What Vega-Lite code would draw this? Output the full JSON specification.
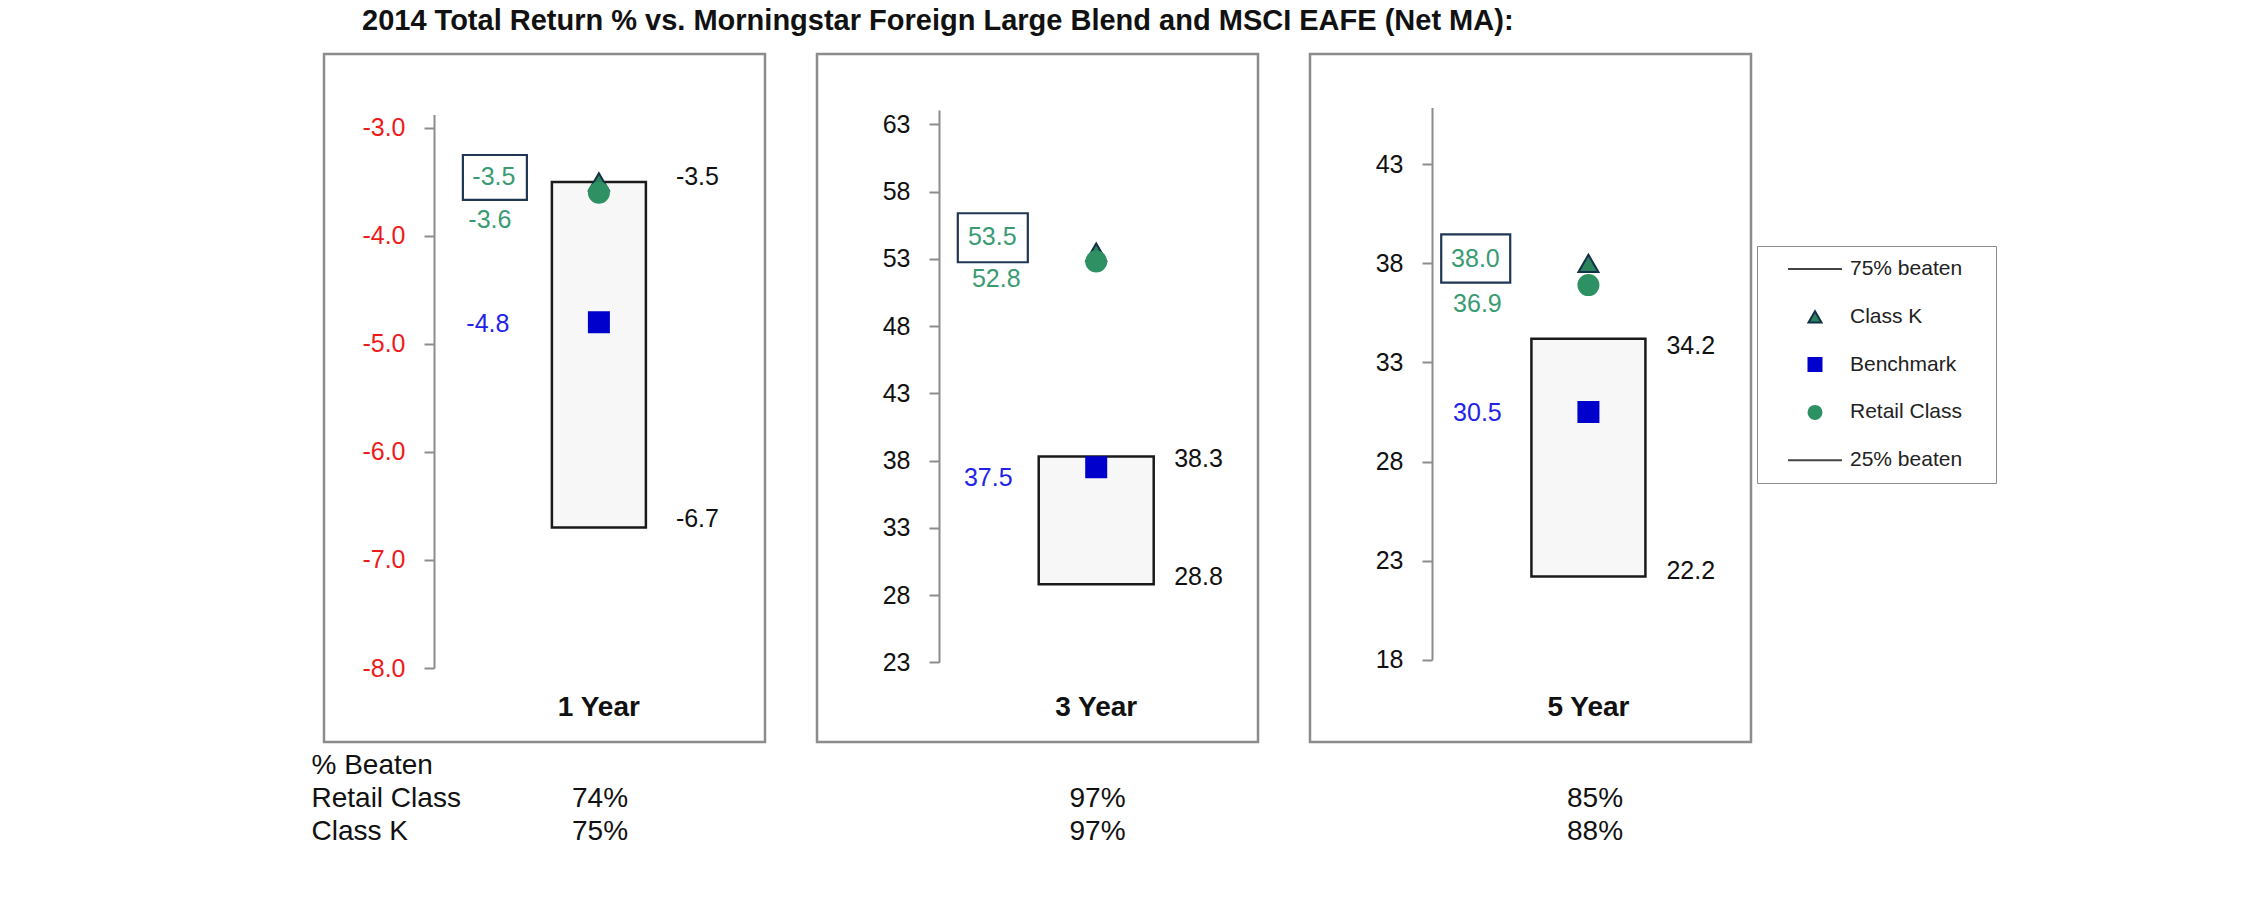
{
  "$schema": "https://vega.github.io/schema/vega-lite/v6.json",
  "background": "white",
  "padding": {"left": 311, "top": 6, "right": 5, "bottom": 5},
  "title": {"text": "2014 Total Return % vs. Morningstar Foreign Large Blend and MSCI EAFE (Net MA):", "anchor": "start", "frame": "group", "dx": 38, "offset": 17, "fontSize": 29, "font": "Liberation Sans", "fontWeight": "bold", "color": "#111111"},
  "datasets": {
    "returns": [
      {"period": "1 Year", "series": "Class K", "value": -3.5},
      {"period": "1 Year", "series": "Retail Class", "value": -3.6},
      {"period": "1 Year", "series": "Benchmark", "value": -4.8},
      {"period": "1 Year", "series": "75% beaten", "value": -3.5},
      {"period": "1 Year", "series": "25% beaten", "value": -6.7},
      {"period": "3 Year", "series": "Class K", "value": 53.5},
      {"period": "3 Year", "series": "Retail Class", "value": 52.8},
      {"period": "3 Year", "series": "Benchmark", "value": 37.5},
      {"period": "3 Year", "series": "75% beaten", "value": 38.3},
      {"period": "3 Year", "series": "25% beaten", "value": 28.8},
      {"period": "5 Year", "series": "Class K", "value": 38.0},
      {"period": "5 Year", "series": "Retail Class", "value": 36.9},
      {"period": "5 Year", "series": "Benchmark", "value": 30.5},
      {"period": "5 Year", "series": "75% beaten", "value": 34.2},
      {"period": "5 Year", "series": "25% beaten", "value": 22.2}
    ],
    "beaten": [
      {"period": "1 Year", "cls": "Retail Class", "pct": 0.74},
      {"period": "1 Year", "cls": "Class K", "pct": 0.75},
      {"period": "3 Year", "cls": "Retail Class", "pct": 0.97},
      {"period": "3 Year", "cls": "Class K", "pct": 0.97},
      {"period": "5 Year", "cls": "Retail Class", "pct": 0.85},
      {"period": "5 Year", "cls": "Class K", "pct": 0.88}
    ]
  },
  "spacing": 5,
  "vconcat": [
    {
      "spacing": 48,
      "hconcat": [
        {
          "width": 441, "height": 688,
          "data": {"name": "returns"},
          "transform": [{"filter": "datum.period === '1 Year'"}],
          "encoding": {
            "x": {"field": "period", "type": "nominal", "scale": {"type": "band", "paddingInner": 0, "paddingOuter": 1, "align": 0.685}, "axis": {"orient": "bottom", "offset": -49, "domain": false, "ticks": false, "tickSize": 0, "labelPadding": 0, "labelAngle": 0, "labelFontSize": 28, "labelFontWeight": "bold", "labelColor": "#111111", "title": null}},
            "y": {"field": "value", "type": "quantitative", "scale": {"domain": [-8, -2.876], "range": [614, 60.5], "nice": false, "zero": false}, "axis": {"values": [-8, -7, -6, -5, -4, -3], "format": ".1f", "offset": -110, "labelColor": "#ee1b1b", "labelFontSize": 25, "labelPadding": 19, "tickSize": 10, "tickWidth": 2, "tickColor": "#8c8c8c", "domainColor": "#8c8c8c", "domainWidth": 2, "title": null, "grid": false}}
          },
          "layer": [
            {"transform": [{"pivot": "series", "value": "value", "groupby": ["period"]}],
             "mark": {"type": "bar", "width": 94, "fill": "#f7f7f7", "stroke": "#1a1a1a", "strokeWidth": 2.5},
             "encoding": {"y": {"field": "75% beaten", "type": "quantitative", "scale": {"domain": [-8, -2.876], "range": [614, 60.5], "nice": false, "zero": false}, "axis": {"values": [-8, -7, -6, -5, -4, -3], "format": ".1f", "offset": -110, "labelColor": "#ee1b1b", "labelFontSize": 25, "labelPadding": 19, "tickSize": 10, "tickWidth": 2, "tickColor": "#8c8c8c", "domainColor": "#8c8c8c", "domainWidth": 2, "title": null, "grid": false}}, "y2": {"field": "25% beaten"}}},
            {"transform": [{"filter": "datum.series === 'Class K'"}],
             "mark": {"type": "point", "shape": "M-1,-0.7H1V0.7H-1Z", "size": 4096, "filled": false, "stroke": "#1f3654", "strokeWidth": 2.2, "opacity": 1, "xOffset": -104, "yOffset": -4.5}},
            {"transform": [{"filter": "datum.series !== '75% beaten' && datum.series !== '25% beaten'"}],
             "mark": {"type": "point", "filled": true, "size": 400, "opacity": 1, "strokeWidth": 2},
             "encoding": {
               "shape": {"field": "series", "type": "nominal", "title": null, "scale": {"domain": ["75% beaten", "Class K", "Benchmark", "Retail Class", "25% beaten"], "range": ["M-4.15,0H4.15", "triangle-up", "square", "circle", "M-4.15,0H4.15"]}, "legend": {"orient": "none", "legendX": 1433, "legendY": 192, "title": null, "labelExpr": "datum.label + '\u00a0\u2800'"}},
               "fill": {"field": "series", "type": "nominal", "title": null, "scale": {"domain": ["75% beaten", "Class K", "Benchmark", "Retail Class", "25% beaten"], "range": ["#444444", "#2a835a", "#0000cc", "#2e9163", "#444444"]}, "legend": {"orient": "none", "legendX": 1433, "legendY": 192, "title": null, "labelExpr": "datum.label + '\u00a0\u2800'"}},
               "stroke": {"field": "series", "type": "nominal", "title": null, "scale": {"domain": ["75% beaten", "Class K", "Benchmark", "Retail Class", "25% beaten"], "range": ["#444444", "#13304a", "#0000cc", "#2e9163", "#444444"]}, "legend": {"orient": "none", "legendX": 1433, "legendY": 192, "title": null, "labelExpr": "datum.label + '\u00a0\u2800'"}}
             }},
            {"transform": [{"filter": "datum.series === 'Class K'"}],
             "mark": {"type": "text", "align": "center", "baseline": "middle", "dx": -105, "dy": -4.5, "fontSize": 25, "color": "#3a9b72"},
             "encoding": {"text": {"field": "value", "type": "quantitative", "format": ".1f"}}},
            {"transform": [{"filter": "datum.series === 'Retail Class'"}],
             "mark": {"type": "text", "align": "center", "baseline": "middle", "dx": -109, "dy": 27, "fontSize": 25, "color": "#3a9b72"},
             "encoding": {"text": {"field": "value", "type": "quantitative", "format": ".1f"}}},
            {"transform": [{"filter": "datum.series === 'Benchmark'"}],
             "mark": {"type": "text", "align": "center", "baseline": "middle", "dx": -111, "dy": 2, "fontSize": 25, "color": "#2323e8"},
             "encoding": {"text": {"field": "value", "type": "quantitative", "format": ".1f"}}},
            {"transform": [{"filter": "datum.series === '75% beaten'"}],
             "mark": {"type": "text", "align": "left", "baseline": "middle", "dx": 77, "dy": -5, "fontSize": 25, "color": "#111111"},
             "encoding": {"text": {"field": "value", "type": "quantitative", "format": ".1f"}}},
            {"transform": [{"filter": "datum.series === '25% beaten'"}],
             "mark": {"type": "text", "align": "left", "baseline": "middle", "dx": 77, "dy": -9, "fontSize": 25, "color": "#111111"},
             "encoding": {"text": {"field": "value", "type": "quantitative", "format": ".1f"}}}
          ]
        },
        {
          "width": 441, "height": 688,
          "data": {"name": "returns"},
          "transform": [{"filter": "datum.period === '3 Year'"}],
          "encoding": {
            "x": {"field": "period", "type": "nominal", "scale": {"type": "band", "paddingInner": 0, "paddingOuter": 1, "align": 0.6997}, "axis": {"orient": "bottom", "offset": -49, "domain": false, "ticks": false, "tickSize": 0, "labelPadding": 0, "labelAngle": 0, "labelFontSize": 28, "labelFontWeight": "bold", "labelColor": "#111111", "title": null}},
            "y": {"field": "value", "type": "quantitative", "scale": {"domain": [23, 64.06], "range": [608.3, 56], "nice": false, "zero": false}, "axis": {"values": [23, 28, 33, 38, 43, 48, 53, 58, 63], "format": "d", "offset": -122, "labelColor": "#111111", "labelFontSize": 25, "labelPadding": 19, "tickSize": 10, "tickWidth": 2, "tickColor": "#8c8c8c", "domainColor": "#8c8c8c", "domainWidth": 2, "title": null, "grid": false}}
          },
          "layer": [
            {"transform": [{"pivot": "series", "value": "value", "groupby": ["period"]}],
             "mark": {"type": "bar", "width": 115, "fill": "#f7f7f7", "stroke": "#1a1a1a", "strokeWidth": 2.5},
             "encoding": {"y": {"field": "75% beaten", "type": "quantitative", "scale": {"domain": [23, 64.06], "range": [608.3, 56], "nice": false, "zero": false}, "axis": {"values": [23, 28, 33, 38, 43, 48, 53, 58, 63], "format": "d", "offset": -122, "labelColor": "#111111", "labelFontSize": 25, "labelPadding": 19, "tickSize": 10, "tickWidth": 2, "tickColor": "#8c8c8c", "domainColor": "#8c8c8c", "domainWidth": 2, "title": null, "grid": false}}, "y2": {"field": "25% beaten"}}},
            {"transform": [{"filter": "datum.series === 'Class K'"}],
             "mark": {"type": "point", "shape": "M-1,-0.7H1V0.7H-1Z", "size": 4900, "filled": false, "stroke": "#1f3654", "strokeWidth": 2.2, "opacity": 1, "xOffset": -103.4, "yOffset": -14.3}},
            {"transform": [{"filter": "datum.series !== '75% beaten' && datum.series !== '25% beaten'"}],
             "mark": {"type": "point", "filled": true, "size": 400, "opacity": 1, "strokeWidth": 2},
             "encoding": {
               "shape": {"field": "series", "type": "nominal", "title": null, "scale": {"domain": ["75% beaten", "Class K", "Benchmark", "Retail Class", "25% beaten"], "range": ["M-4.15,0H4.15", "triangle-up", "square", "circle", "M-4.15,0H4.15"]}, "legend": {"orient": "none", "legendX": 1433, "legendY": 192, "title": null, "labelExpr": "datum.label + '\u00a0\u2800'"}},
               "fill": {"field": "series", "type": "nominal", "title": null, "scale": {"domain": ["75% beaten", "Class K", "Benchmark", "Retail Class", "25% beaten"], "range": ["#444444", "#2a835a", "#0000cc", "#2e9163", "#444444"]}, "legend": {"orient": "none", "legendX": 1433, "legendY": 192, "title": null, "labelExpr": "datum.label + '\u00a0\u2800'"}},
               "stroke": {"field": "series", "type": "nominal", "title": null, "scale": {"domain": ["75% beaten", "Class K", "Benchmark", "Retail Class", "25% beaten"], "range": ["#444444", "#13304a", "#0000cc", "#2e9163", "#444444"]}, "legend": {"orient": "none", "legendX": 1433, "legendY": 192, "title": null, "labelExpr": "datum.label + '\u00a0\u2800'"}}
             }},
            {"transform": [{"filter": "datum.series === 'Class K'"}],
             "mark": {"type": "text", "align": "center", "baseline": "middle", "dx": -104, "dy": -15, "fontSize": 25, "color": "#3a9b72"},
             "encoding": {"text": {"field": "value", "type": "quantitative", "format": ".1f"}}},
            {"transform": [{"filter": "datum.series === 'Retail Class'"}],
             "mark": {"type": "text", "align": "center", "baseline": "middle", "dx": -100, "dy": 18, "fontSize": 25, "color": "#3a9b72"},
             "encoding": {"text": {"field": "value", "type": "quantitative", "format": ".1f"}}},
            {"transform": [{"filter": "datum.series === 'Benchmark'"}],
             "mark": {"type": "text", "align": "center", "baseline": "middle", "dx": -108, "dy": 11, "fontSize": 25, "color": "#2323e8"},
             "encoding": {"text": {"field": "value", "type": "quantitative", "format": ".1f"}}},
            {"transform": [{"filter": "datum.series === '75% beaten'"}],
             "mark": {"type": "text", "align": "left", "baseline": "middle", "dx": 78, "dy": 3, "fontSize": 25, "color": "#111111"},
             "encoding": {"text": {"field": "value", "type": "quantitative", "format": ".1f"}}},
            {"transform": [{"filter": "datum.series === '25% beaten'"}],
             "mark": {"type": "text", "align": "left", "baseline": "middle", "dx": 78, "dy": -7, "fontSize": 25, "color": "#111111"},
             "encoding": {"text": {"field": "value", "type": "quantitative", "format": ".1f"}}}
          ]
        },
        {
          "width": 441, "height": 688,
          "data": {"name": "returns"},
          "transform": [{"filter": "datum.period === '5 Year'"}],
          "encoding": {
            "x": {"field": "period", "type": "nominal", "scale": {"type": "band", "paddingInner": 0, "paddingOuter": 1, "align": 0.697}, "axis": {"orient": "bottom", "offset": -49, "domain": false, "ticks": false, "tickSize": 0, "labelPadding": 0, "labelAngle": 0, "labelFontSize": 28, "labelFontWeight": "bold", "labelColor": "#111111", "title": null}},
            "y": {"field": "value", "type": "quantitative", "scale": {"domain": [18, 45.86], "range": [605.8, 53.5], "nice": false, "zero": false}, "axis": {"values": [18, 23, 28, 33, 38, 43], "format": "d", "offset": -122, "labelColor": "#111111", "labelFontSize": 25, "labelPadding": 19, "tickSize": 10, "tickWidth": 2, "tickColor": "#8c8c8c", "domainColor": "#8c8c8c", "domainWidth": 2, "title": null, "grid": false}}
          },
          "layer": [
            {"transform": [{"pivot": "series", "value": "value", "groupby": ["period"]}],
             "mark": {"type": "bar", "width": 114, "fill": "#f7f7f7", "stroke": "#1a1a1a", "strokeWidth": 2.5},
             "encoding": {"y": {"field": "75% beaten", "type": "quantitative", "scale": {"domain": [18, 45.86], "range": [605.8, 53.5], "nice": false, "zero": false}, "axis": {"values": [18, 23, 28, 33, 38, 43], "format": "d", "offset": -122, "labelColor": "#111111", "labelFontSize": 25, "labelPadding": 19, "tickSize": 10, "tickWidth": 2, "tickColor": "#8c8c8c", "domainColor": "#8c8c8c", "domainWidth": 2, "title": null, "grid": false}}, "y2": {"field": "25% beaten"}}},
            {"transform": [{"filter": "datum.series === 'Class K'"}],
             "mark": {"type": "point", "shape": "M-1,-0.7H1V0.7H-1Z", "size": 4761, "filled": false, "stroke": "#1f3654", "strokeWidth": 2.2, "opacity": 1, "xOffset": -112.7, "yOffset": -4.8}},
            {"transform": [{"filter": "datum.series !== '75% beaten' && datum.series !== '25% beaten'"}],
             "mark": {"type": "point", "filled": true, "size": 400, "opacity": 1, "strokeWidth": 2},
             "encoding": {
               "shape": {"field": "series", "type": "nominal", "title": null, "scale": {"domain": ["75% beaten", "Class K", "Benchmark", "Retail Class", "25% beaten"], "range": ["M-4.15,0H4.15", "triangle-up", "square", "circle", "M-4.15,0H4.15"]}, "legend": {"orient": "none", "legendX": 1433, "legendY": 192, "title": null, "labelExpr": "datum.label + '\u00a0\u2800'"}},
               "fill": {"field": "series", "type": "nominal", "title": null, "scale": {"domain": ["75% beaten", "Class K", "Benchmark", "Retail Class", "25% beaten"], "range": ["#444444", "#2a835a", "#0000cc", "#2e9163", "#444444"]}, "legend": {"orient": "none", "legendX": 1433, "legendY": 192, "title": null, "labelExpr": "datum.label + '\u00a0\u2800'"}},
               "stroke": {"field": "series", "type": "nominal", "title": null, "scale": {"domain": ["75% beaten", "Class K", "Benchmark", "Retail Class", "25% beaten"], "range": ["#444444", "#13304a", "#0000cc", "#2e9163", "#444444"]}, "legend": {"orient": "none", "legendX": 1433, "legendY": 192, "title": null, "labelExpr": "datum.label + '\u00a0\u2800'"}}
             }},
            {"transform": [{"filter": "datum.series === 'Class K'"}],
             "mark": {"type": "text", "align": "center", "baseline": "middle", "dx": -113, "dy": -4.5, "fontSize": 25, "color": "#3a9b72"},
             "encoding": {"text": {"field": "value", "type": "quantitative", "format": ".1f"}}},
            {"transform": [{"filter": "datum.series === 'Retail Class'"}],
             "mark": {"type": "text", "align": "center", "baseline": "middle", "dx": -111, "dy": 19, "fontSize": 25, "color": "#3a9b72"},
             "encoding": {"text": {"field": "value", "type": "quantitative", "format": ".1f"}}},
            {"transform": [{"filter": "datum.series === 'Benchmark'"}],
             "mark": {"type": "text", "align": "center", "baseline": "middle", "dx": -111, "dy": 1, "fontSize": 25, "color": "#2323e8"},
             "encoding": {"text": {"field": "value", "type": "quantitative", "format": ".1f"}}},
            {"transform": [{"filter": "datum.series === '75% beaten'"}],
             "mark": {"type": "text", "align": "left", "baseline": "middle", "dx": 78, "dy": 7, "fontSize": 25, "color": "#111111"},
             "encoding": {"text": {"field": "value", "type": "quantitative", "format": ".1f"}}},
            {"transform": [{"filter": "datum.series === '25% beaten'"}],
             "mark": {"type": "text", "align": "left", "baseline": "middle", "dx": 78, "dy": -6, "fontSize": 25, "color": "#111111"},
             "encoding": {"text": {"field": "value", "type": "quantitative", "format": ".1f"}}}
          ]
        }
      ]
    },
    {
      "width": 1600, "height": 100,
      "view": {"stroke": null},
      "data": {"name": "beaten"},
      "mark": {"type": "text", "fontSize": 28, "color": "#111111", "baseline": "middle"},
      "encoding": {
        "x": {"field": "period", "type": "nominal", "scale": {"type": "band", "domain": ["1 Year", "3 Year", "5 Year"], "paddingInner": 0, "paddingOuter": 0.108, "align": 0.2535}, "axis": null},
        "y": {"field": "cls", "type": "nominal", "scale": {"type": "band", "domain": ["% Beaten", "Retail Class", "Class K"], "paddingInner": 0, "paddingOuter": 0}, "axis": {"orient": "left", "labelAlign": "left", "labelBaseline": "middle", "labelPadding": 13, "ticks": false, "tickSize": 0, "domain": false, "labelFontSize": 28, "labelColor": "#111111", "title": null}},
        "text": {"field": "pct", "type": "quantitative", "format": ".0%"}
      }
    }
  ],
  "config": {
    "font": "Liberation Sans",
    "view": {"stroke": "#8c8c8c", "strokeWidth": 2.5},
    "axis": {"labelFont": "Liberation Sans", "grid": false},
    "legend": {"padding": 12.5, "symbolSize": 169, "symbolStrokeWidth": 2, "symbolOffset": 35, "labelOffset": 24.5, "rowPadding": 25.8, "labelFontSize": 21, "labelFont": "Liberation Sans", "labelColor": "#222222", "strokeColor": "#8c8c8c", "symbolOpacity": 1, "labelLimit": 300},
    "locale": {"number": {"decimal": ".", "thousands": ",", "grouping": [3], "currency": ["$", ""], "minus": "-"}}
  }
}
